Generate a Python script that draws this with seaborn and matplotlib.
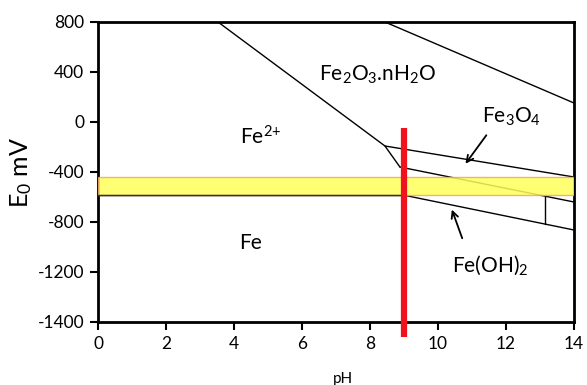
import matplotlib
matplotlib.use("Agg")
import matplotlib.pyplot as plt
import seaborn as sns

sns.set_theme(style="white")
plt.rcParams['font.family'] = ['Lato', 'DejaVu Sans']
plt.rcParams['mathtext.fontset'] = 'custom'
plt.rcParams['mathtext.rm'] = 'Lato'
plt.rcParams['mathtext.it'] = 'Lato'
plt.rcParams['text.color'] = 'black'
plt.rcParams['axes.labelcolor'] = 'black'
plt.rcParams['xtick.color'] = 'black'
plt.rcParams['ytick.color'] = 'black'

# boundary lines of the Pourbaix diagram (pH, E mV)
fe2_oxide_ph = [3.53, 8.44, 8.88]
fe2_oxide_e = [800, -192, -360]
oxygen_ph = [8.44, 14.0]
oxygen_e = [800, 152]
magnetite_top_ph = [8.44, 14.0]
magnetite_top_e = [-192, -440]
magnetite_low_ph = [8.88, 14.0]
magnetite_low_e = [-360, -640]
iron_horiz_ph = [0.0, 8.97]
iron_horiz_e = [-584, -584]
hydroxide_ph = [8.97, 14.0]
hydroxide_e = [-584, -864]
small_vert_ph = [13.15, 13.15]
small_vert_e = [-596, -815]

# yellow band and red marker
band_e = [-440, -584]
marker_ph = 9.0
marker_e = [-48, -1720]

xticks = [0, 2, 4, 6, 8, 10, 12, 14]
ytick_vals = [800, 400, 0, -400, -800, -1200, -1600]
ytick_labels = ['800', '400', '0', '-400', '-800', '-1200', '-1400']

fig = plt.figure(figsize=(5.87, 3.85), dpi=100)
ax = fig.add_axes([98 / 587, 1 - 322 / 385, 476 / 587, 300 / 385])

for px, py in [(fe2_oxide_ph, fe2_oxide_e), (oxygen_ph, oxygen_e),
               (magnetite_top_ph, magnetite_top_e), (magnetite_low_ph, magnetite_low_e),
               (iron_horiz_ph, iron_horiz_e), (hydroxide_ph, hydroxide_e),
               (small_vert_ph, small_vert_e)]:
    sns.lineplot(x=px, y=py, color='black', linewidth=1.0, ax=ax, zorder=2,
                 sort=False, estimator=None)

# yellow band (semi transparent so lines show faintly)
ax.axhspan(band_e[1], band_e[0], facecolor='#FFFF5C', alpha=0.85,
           edgecolor='#F2A65A', linewidth=1.0, zorder=3)
ax.plot(iron_horiz_ph, iron_horiz_e, color='#333333', linewidth=1.0, zorder=4)

# red vertical marker
ax.plot([marker_ph, marker_ph], marker_e, color='#F0131E', linewidth=4.5,
        zorder=5, clip_on=False, solid_capstyle='butt')

# labels
ax.text(8.24, 376, r'Fe$_2$O$_3$.nH$_2$O', fontsize=15, ha='center', va='center')
ax.text(4.18, -120, r'Fe$^{2{+}}$', fontsize=15, ha='left', va='center')
ax.text(12.15, 40, r'Fe$_3$O$_4$', fontsize=15, ha='center', va='center')
ax.text(4.15, -968, 'Fe', fontsize=15, ha='left', va='center')
ax.text(11.53, -1144, r'Fe(OH)$_2$', fontsize=15, ha='center', va='center')
ax.annotate('', xy=(10.76, -352), xytext=(11.47, -88),
            arrowprops=dict(arrowstyle='->', color='black', lw=1.3))
ax.annotate('', xy=(10.38, -680), xytext=(10.74, -951),
            arrowprops=dict(arrowstyle='->', color='black', lw=1.3))

ax.set_xlim(0, 14)
ax.set_ylim(-1600, 800)
ax.set_xticks(xticks)
ax.set_xticklabels([str(t) for t in xticks])
ax.set_yticks(ytick_vals)
ax.set_yticklabels(ytick_labels)
ax.tick_params(axis='both', which='major', direction='out', length=6, width=1.5,
               labelsize=12.5, pad=4, color='black', labelcolor='black',
               left=True, bottom=True)
for side in ['left', 'bottom', 'top', 'right']:
    ax.spines[side].set_color('black')
    ax.spines[side].set_linewidth(2.0)

ax.set_xlabel('pH', fontsize=11)
ax.xaxis.set_label_coords(0.515, -0.165)
ax.set_ylabel(r'E$_0$ mV', fontsize=18)
ax.yaxis.set_label_coords(-0.135, 0.5)

fig.savefig('out.png', dpi=100)
